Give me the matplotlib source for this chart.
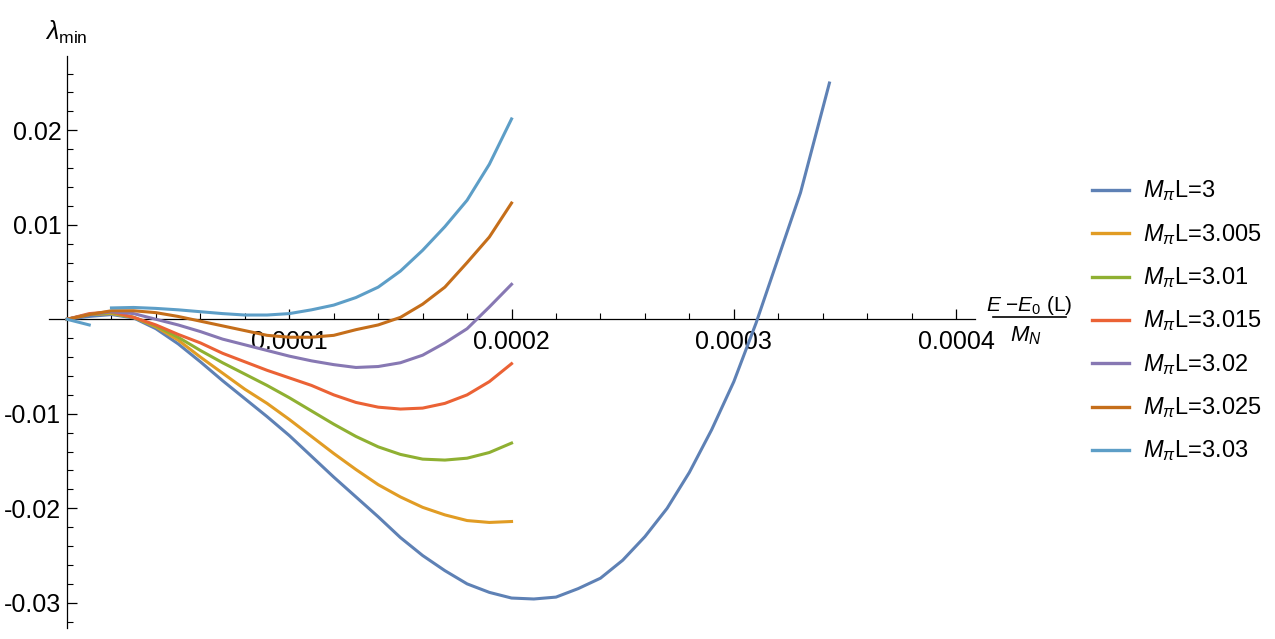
import numpy as np
import matplotlib
matplotlib.use("Agg")
import matplotlib.pyplot as plt
from matplotlib.lines import Line2D
from matplotlib.ticker import FixedLocator, FixedFormatter

plt.rcParams['font.family'] = ['Liberation Sans', 'DejaVu Sans']
plt.rcParams['mathtext.fontset'] = 'custom'
plt.rcParams['mathtext.rm'] = 'Liberation Sans'
plt.rcParams['mathtext.it'] = 'Liberation Sans:italic'
plt.rcParams['mathtext.bf'] = 'Liberation Sans:bold'

# ---- data ----
x_short = [0.0, 0.00001, 0.00002, 0.00003, 0.00004, 0.00005, 0.00006, 0.00007,
           0.00008, 0.00009, 0.0001, 0.00011, 0.00012, 0.00013, 0.00014, 0.00015,
           0.00016, 0.00017, 0.00018, 0.00019, 0.0002]
x_long = x_short + [0.00021, 0.00022, 0.00023, 0.00024, 0.00025, 0.00026, 0.00027,
                    0.00028, 0.00029, 0.0003, 0.00031, 0.00032, 0.00033, 0.000343]

lam_3000 = [0, 0.0003, 0.0005, 0.00014, -0.0010, -0.0026, -0.0045, -0.0065, -0.0084,
            -0.0103, -0.0123, -0.0145, -0.0167, -0.0188, -0.0209, -0.0231, -0.0250,
            -0.0266, -0.0280, -0.0289, -0.0295, -0.0296, -0.0294, -0.0285, -0.0274,
            -0.0255, -0.0230, -0.0200, -0.0162, -0.0117, -0.0066, -0.0004, 0.0065,
            0.0134, 0.0250]
lam_3005 = [0, 0.0005, 0.0006, 0.0002, -0.0008, -0.0022, -0.0040, -0.0057, -0.0074,
            -0.0089, -0.0106, -0.0124, -0.0142, -0.0159, -0.0175, -0.0188, -0.0199,
            -0.0207, -0.0213, -0.0215, -0.0214]
lam_3010 = [0, 0.0005, 0.0007, 0.0002, -0.0007, -0.0019, -0.0033, -0.0046, -0.0058,
            -0.0070, -0.0083, -0.0097, -0.0111, -0.0124, -0.0135, -0.0143, -0.0148,
            -0.0149, -0.0147, -0.0141, -0.0131]
lam_3015 = [0, 0.0006, 0.0008, 0.0002, -0.0006, -0.0016, -0.0025, -0.0036, -0.0045,
            -0.0054, -0.0062, -0.0070, -0.0080, -0.0088, -0.0093, -0.0095, -0.0094,
            -0.0089, -0.0080, -0.0066, -0.0047]
lam_3020 = [0, 0.0005, 0.0008, 0.0006, 0.0000, -0.0006, -0.0013, -0.0021, -0.0027,
            -0.0033, -0.0039, -0.0044, -0.0048, -0.0051, -0.0050, -0.0046, -0.0038,
            -0.0025, -0.0010, 0.0013, 0.0037]
lam_3025 = [0, 0.0005, 0.0009, 0.0009, 0.0007, 0.0003, -0.0002, -0.0007, -0.0012,
            -0.0017, -0.0019, -0.0019, -0.0017, -0.0011, -0.0006, 0.0002, 0.0016,
            0.0034, 0.0060, 0.0087, 0.0123]
lam_3030 = [0, -0.0006, 0.0012, 0.00125, 0.00115, 0.0010, 0.0008, 0.0006, 0.00045,
            0.00045, 0.0006, 0.0010, 0.0015, 0.0023, 0.0034, 0.0051, 0.0073, 0.0098,
            0.0126, 0.0164, 0.0212]
break_3030 = 2  # the 3.03 curve is not connected between its 2nd and 3rd points

labels = [r'$M_\pi$L=3', r'$M_\pi$L=3.005', r'$M_\pi$L=3.01', r'$M_\pi$L=3.015',
          r'$M_\pi$L=3.02', r'$M_\pi$L=3.025', r'$M_\pi$L=3.03']
colors = ['#5E81B5', '#E19C24', '#8FB032', '#EB6235', '#8778B3', '#C56E1A', '#5D9EC7']

xticks = [0.0001, 0.0002, 0.0003, 0.0004]
xticklabels = ['0.0001', '0.0002', '0.0003', '0.0004']
yticks = [-0.03, -0.02, -0.01, 0.01, 0.02]
yticklabels = ['-0.03', '-0.02', '-0.01', '0.01', '0.02']

# ---- figure ----
W, H = 1275, 639
fig = plt.figure(figsize=(W / 100, H / 100), dpi=100)
px0, px1, py0, py1 = 49, 975, 56, 628
ax = fig.add_axes([px0 / W, 1 - py1 / H, (px1 - px0) / W, (py1 - py0) / H])
ax.set_xlim(-0.0000081, 0.0004085)
ax.set_ylim(-0.03267, 0.02786)

lw = 2.2
series = [(x_long, lam_3000), (x_short, lam_3005), (x_short, lam_3010),
          (x_short, lam_3015), (x_short, lam_3020), (x_short, lam_3025)]
for (xs, ys), c in zip(series, colors[:6]):
    ax.plot(xs, ys, color=c, lw=lw, solid_joinstyle='round', zorder=3)
ax.plot(x_short[:break_3030], lam_3030[:break_3030], color=colors[6], lw=lw, zorder=3)
ax.plot(x_short[break_3030:], lam_3030[break_3030:], color=colors[6], lw=lw, zorder=3)

for s in ['top', 'right']:
    ax.spines[s].set_visible(False)
ax.spines['left'].set_position(('data', 0))
ax.spines['bottom'].set_position(('data', 0))
for s in ['left', 'bottom']:
    ax.spines[s].set_linewidth(0.9)
ax.patch.set_visible(False)

ax.xaxis.set_major_locator(FixedLocator(xticks))
ax.xaxis.set_major_formatter(FixedFormatter(xticklabels))
ax.yaxis.set_major_locator(FixedLocator(yticks))
ax.yaxis.set_major_formatter(FixedFormatter(yticklabels))
xminor = [v * 0.00002 for v in range(1, 21) if v % 5 != 0]
yminor = [v * 0.002 for v in range(-16, 14) if v % 5 != 0]
ax.xaxis.set_minor_locator(FixedLocator(xminor))
ax.yaxis.set_minor_locator(FixedLocator(yminor))
ax.tick_params(which='major', direction='in', length=7.2, width=0.9, labelsize=18)
ax.tick_params(which='minor', direction='in', length=4.3, width=0.8)
ax.tick_params(axis='x', which='major', pad=7.5)
ax.tick_params(axis='y', which='major', pad=4)

# axis labels
fig.text(45 / W, 1 - 40 / H, r'$\lambda_{\mathrm{min}}$', fontsize=18, ha='left', va='baseline')
fig.text(1029 / W, 1 - 311 / H, r'$E$ $-E_{0}$ (L)', fontsize=15,
         ha='center', va='baseline')
fig.add_artist(Line2D([993 / W, 1066 / W], [1 - 317 / H] * 2, color='black', lw=1.2))
fig.text(1026 / W, 1 - 341 / H, r'$M_N$', fontsize=16, ha='center', va='baseline')

# legend
leg_y = [190, 233.3, 276.7, 320, 363.3, 406.7, 450]
for yy, lab, c in zip(leg_y, labels, colors):
    fig.add_artist(Line2D([1092 / W, 1129 / W], [1 - yy / H] * 2, color=c, lw=2.4))
    fig.text(1143 / W, 1 - (yy + 7.5) / H, lab, fontsize=17, ha='left', va='baseline')

fig.savefig('out.png', dpi=100)
